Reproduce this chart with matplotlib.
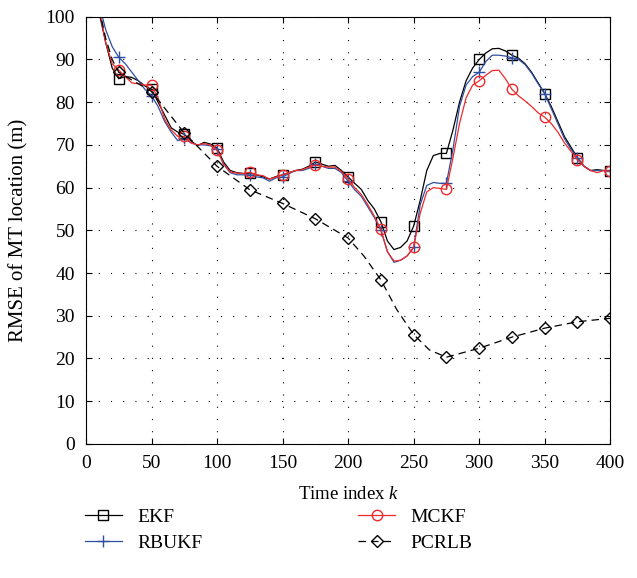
import numpy as np
import matplotlib
matplotlib.use("Agg")
import matplotlib.pyplot as plt

plt.rcParams['font.family'] = ['Liberation Serif', 'DejaVu Serif']
plt.rcParams['mathtext.fontset'] = 'custom'
plt.rcParams['mathtext.it'] = 'Liberation Serif:italic'

# time index, every 5 steps
k = list(range(10, 401, 5))

ekf = [101, 94, 88, 85.5, 86, 85.8, 85, 83.8, 83, 80,
       77, 74, 73, 72.5, 71, 69.8, 70.6, 70.2, 69.3, 66,
       64, 63.5, 63.3, 63.4, 63, 62.5, 62, 62.6, 63, 63.5,
       64, 64.3, 65, 66, 65.5, 65, 65.2, 64, 62.5, 61,
       59.6, 57, 55, 52, 47.5, 45.5, 46, 47.5, 51, 57,
       64, 67.5, 68, 68, 73.5, 80, 85, 88, 90, 91.5,
       92.5, 92.6, 92, 91, 90.3, 89, 87, 84.5, 82, 79,
       75.5, 72, 69.5, 67, 65, 64, 64.2, 64, 64]

rbukf = [103, 97, 93, 90.5, 89, 87, 85, 83, 81.5, 79,
         75.5, 73, 71, 71.5, 70.5, 70, 70, 69.8, 69, 65.5,
         63.5, 63, 63, 63, 62.5, 62.3, 61.5, 62.3, 62.5, 63.3,
         64, 64, 64.5, 65.5, 65, 64.5, 64.5, 63.5, 61.5, 59.5,
         58, 55.5, 53, 50, 45, 42.5, 43, 44, 46, 56,
         60.5, 61.2, 61, 61, 69, 79, 84, 86, 87, 89.5,
         91, 91, 90.8, 90.4, 90, 88.8, 86.8, 84.3, 82, 78.5,
         75, 71.5, 69, 67, 65, 64, 64, 64, 64]

mckf = [102, 94, 89, 87.5, 86, 84.5, 84.3, 84, 84, 81,
        76, 73.5, 72, 72, 70.5, 70, 70.3, 70, 68.7, 65.5,
        63.7, 63.4, 63.3, 63.6, 63, 62.8, 62, 62.5, 63, 63.5,
        64, 64.2, 64.8, 65.3, 65, 64.8, 64.8, 63.8, 62, 60,
        58.4, 56, 53.3, 50.2, 45, 42.8, 43, 44, 46, 54,
        59, 60, 59.8, 59.6, 67, 75, 81, 84, 85, 86.3,
        87.4, 87.5, 85.5, 83, 81.5, 80.3, 79, 77.5, 76.5, 75,
        73, 70.5, 68.5, 66.5, 65, 64, 63.5, 64, 63.8]

k_crlb = [10, 15, 20, 25, 50, 75, 100, 125, 150, 175, 200, 212, 225,
          237, 250, 262, 275, 300, 325, 350, 375, 400]
pcrlb = [102, 95, 90, 87, 82.5, 72.8, 65, 59.5, 56.3, 52.7, 48.2, 44, 38.4,
         31.5, 25.6, 22, 20.3, 22.4, 25, 27.1, 28.6, 29.4]

assert len(k) == len(ekf) == len(rbukf) == len(mckf)

mk = [i for i, v in enumerate(k) if v % 25 == 0]
mk_crlb = [i for i, v in enumerate(k_crlb) if v % 25 == 0]

fig = plt.figure(figsize=(6.37, 5.78), dpi=100)
ax = fig.add_axes([0.135, 0.232, 0.823, 0.739])

ax.plot(k, ekf, '-', color='black', lw=0.9, marker='s', ms=6.5, mfc='none',
        mew=1.0, markevery=mk, label='EKF')
ax.plot(k, rbukf, '-', color='#2f4fa0', lw=0.9, marker='+', ms=9,
        mew=1.0, markevery=mk, label='RBUKF')
ax.plot(k, mckf, '-', color='#f02a2a', lw=0.9, marker='o', ms=7.5, mfc='none',
        mew=1.0, markevery=mk, label='MCKF')
ax.plot(k_crlb, pcrlb, '--', color='black', lw=0.9, marker='D', ms=6.5,
        mfc='none', mew=1.0, markevery=mk_crlb, dashes=(6, 4), label='PCRLB')

ax.set_xlim(0, 400)
ax.set_ylim(0, 100)
ax.set_xticks(range(0, 401, 50))
ax.set_yticks(range(0, 101, 10))
ax.tick_params(direction='in', top=True, right=True, labelsize=14, length=4,
               pad=8)
ax.grid(True, linestyle=(0, (1, 10)), color='black', lw=0.8)
ax.set_xlabel('Time index $k$', fontsize=13.5, labelpad=10)
ax.set_ylabel('RMSE of MT location (m)', fontsize=15, labelpad=12)

fig.legend(loc='upper left', bbox_to_anchor=(0.118, 0.138), ncol=2,
           frameon=False, fontsize=14, columnspacing=8.0, handlelength=1.9,
           handletextpad=0.8, labelspacing=0.45, borderpad=0)

fig.savefig('out.png', dpi=100)
